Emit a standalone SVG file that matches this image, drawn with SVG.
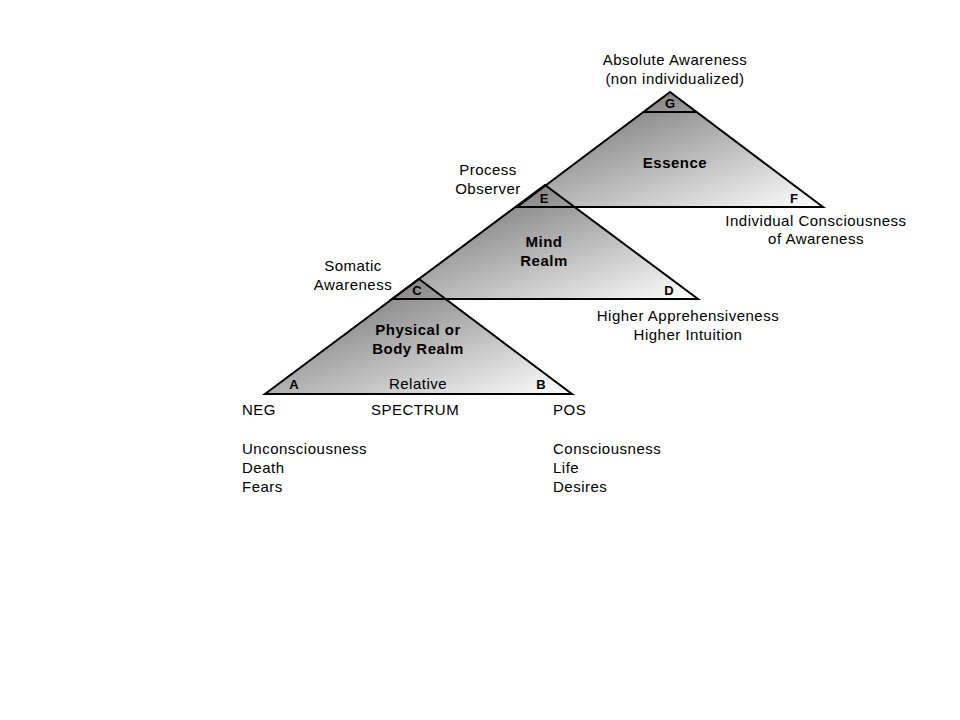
<svg xmlns="http://www.w3.org/2000/svg" width="960" height="720" viewBox="0 0 960 720">
<defs>
<linearGradient id="g" x1="0" y1="0" x2="1" y2="1">
<stop offset="0" stop-color="#606060"/>
<stop offset="1" stop-color="#ffffff"/>
</linearGradient>
</defs>
<style>
.t{font-family:"Liberation Sans",Arial,sans-serif;font-size:15px;letter-spacing:0.5px;fill:#000}
.b{font-family:"Liberation Sans",Arial,sans-serif;font-size:15px;letter-spacing:0.5px;font-weight:bold;fill:#000}
.l{font-family:"Liberation Sans",Arial,sans-serif;font-size:13px;font-weight:bold;fill:#000}
.fill{fill:url(#g);stroke:none}
.edge{fill:none;stroke:#000;stroke-width:2;stroke-linejoin:miter}
</style>
<rect width="960" height="720" fill="#fff"/>
<g id="fills">
<polygon class="fill" points="517,207 823,207 670,92"/>
<polygon class="fill" points="392,299 698,299 545,185"/>
<polygon class="fill" points="265,394 572,394 419,279"/>
</g>
<g id="connectors">
<polygon class="edge" points="517,207 823,207 670,92"/>
<polygon class="edge" points="392,299 698,299 545,185"/>
<polygon class="edge" points="265,394 572,394 419,279"/>
<line class="edge" x1="643" y1="112" x2="697" y2="112"/>
</g>
<g id="node-essence">
<text class="l" x="670" y="108" text-anchor="middle">G</text>
<text class="b" x="675" y="168" text-anchor="middle">Essence</text>
<text class="l" x="794" y="203" text-anchor="middle">F</text>
<text class="l" x="544" y="203" text-anchor="middle">E</text>
</g>
<g id="node-mind">
<text class="b" x="544" y="247" text-anchor="middle">Mind</text>
<text class="b" x="544" y="266" text-anchor="middle">Realm</text>
<text class="l" x="669" y="295" text-anchor="middle">D</text>
<text class="l" x="417" y="295" text-anchor="middle">C</text>
</g>
<g id="node-physical">
<text class="b" x="418" y="335" text-anchor="middle">Physical or</text>
<text class="b" x="418" y="354" text-anchor="middle">Body Realm</text>
<text class="l" x="294" y="389" text-anchor="middle">A</text>
<text class="l" x="541" y="389" text-anchor="middle">B</text>
<text class="t" x="418" y="389" text-anchor="middle">Relative</text>
</g>
<g id="labels">
<text class="t" x="675" y="65" text-anchor="middle">Absolute Awareness</text>
<text class="t" x="675" y="84" text-anchor="middle">(non individualized)</text>
<text class="t" x="488" y="175" text-anchor="middle">Process</text>
<text class="t" x="488" y="194" text-anchor="middle">Observer</text>
<text class="t" x="353" y="271" text-anchor="middle">Somatic</text>
<text class="t" x="353" y="290" text-anchor="middle">Awareness</text>
<text class="t" x="816" y="226" text-anchor="middle">Individual Consciousness</text>
<text class="t" x="816" y="244" text-anchor="middle">of Awareness</text>
<text class="t" x="688" y="321" text-anchor="middle">Higher Apprehensiveness</text>
<text class="t" x="688" y="340" text-anchor="middle">Higher Intuition</text>
<text class="t" x="242" y="415">NEG</text>
<text class="t" x="371" y="415">SPECTRUM</text>
<text class="t" x="553" y="415">POS</text>
<text class="t" x="242" y="454">Unconsciousness</text>
<text class="t" x="242" y="473">Death</text>
<text class="t" x="242" y="492">Fears</text>
<text class="t" x="553" y="454">Consciousness</text>
<text class="t" x="553" y="473">Life</text>
<text class="t" x="553" y="492">Desires</text>
</g>
</svg>
